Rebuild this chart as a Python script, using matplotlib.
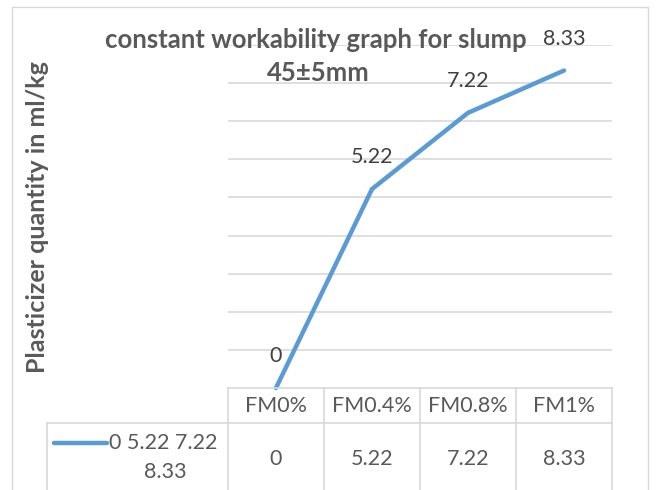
import numpy as np
import matplotlib.pyplot as plt
from matplotlib.transforms import blended_transform_factory

plt.rcParams['font.family'] = ['Lato', 'DejaVu Sans']

# Data
categories = ["FM0%", "FM0.4%", "FM0.8%", "FM1%"]
values = [0, 5.22, 7.22, 8.33]
series_name = ["0 5.22 7.22", "8.33"]

W, H = 656, 490
txt = "#595959"
grid = "#d9d9d9"
blue = "#5b9bd5"

fig = plt.figure(figsize=(W / 100, H / 100), dpi=100)

# chart border
fig.add_artist(plt.Rectangle((12 / W, -0.1), 636 / W, (H - 7) / H + 0.1,
                             transform=fig.transFigure, fill=False,
                             edgecolor=grid, linewidth=1))

# plot area in pixels: x 228..612, y 45..388
ax = fig.add_axes([228 / W, (H - 388) / H, 384 / W, 343 / H])
x = np.arange(len(categories))
ax.set_xlim(-0.5, len(categories) - 0.5)
ax.set_ylim(0, 9)
ax.set_yticks(np.arange(1, 10))
ax.yaxis.grid(True, color=grid, linewidth=1.2)
ax.set_axisbelow(True)
ax.tick_params(left=False, bottom=False, labelleft=False, labelbottom=False)
for s in ax.spines.values():
    s.set_visible(False)

ax.plot(x, values, color=blue, linewidth=3.2, solid_capstyle="round", clip_on=False)
for xi, v in zip(x, values):
    ax.annotate("%g" % v, (xi, v), xytext=(0, 23), textcoords="offset points",
                ha="center", va="center", fontsize=15.5, color="#404040")


# pixel helpers for the table under the plot
def px(p):
    return -0.5 + (p - 228) / 96


def py(p):
    return (388 - p) / 343


tr = blended_transform_factory(ax.transData, ax.transAxes)
lk = dict(color=grid, linewidth=1.2, transform=tr, clip_on=False)
ax.plot([px(228), px(612)], [py(388)] * 2, **lk)
ax.plot([px(47), px(612)], [py(423)] * 2, **lk)
for b in np.arange(len(categories) + 1) - 0.5:
    ax.plot([b, b], [py(388), py(500)], **lk)
ax.plot([px(47)] * 2, [py(423), py(500)], **lk)
for xi, c, v in zip(x, categories, values):
    ax.text(xi, py(406), c, transform=tr, ha="center", va="center",
            fontsize=15.5, color=txt)
    ax.text(xi, py(459), "%g" % v, transform=tr, ha="center",
            va="center", fontsize=15.5, color=txt)

# legend key in row label cell
ax.plot([px(54), px(107)], [py(443)] * 2, color=blue, linewidth=3.2,
        solid_capstyle="round", transform=tr, clip_on=False)
ax.text(px(109), py(443), series_name[0], transform=tr,
        ha="left", va="center", fontsize=15.5, color=txt)
ax.text(px(165), py(472), series_name[1], transform=tr,
        ha="center", va="center", fontsize=15.5, color=txt)

# titles
fig.text(316 / W, 1 - 40 / H, "constant workability graph for slump",
         ha="center", va="center", fontsize=18.5, fontweight="bold", color=txt)
fig.text(318 / W, 1 - 73 / H, "45±5mm",
         ha="center", va="center", fontsize=18.5, fontweight="bold", color=txt)
fig.text(38 / W, 1 - 217 / H, "Plasticizer quantity in ml/kg", rotation=90,
         ha="center", va="center", fontsize=18, fontweight="bold", color=txt)

fig.savefig("out.png", dpi=100)
